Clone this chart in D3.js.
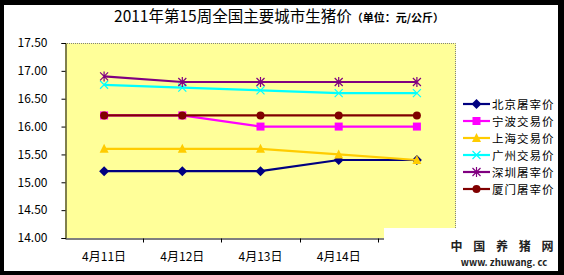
<!DOCTYPE html>
<html>
<head>
<meta charset="utf-8">
<script src="https://cdn.jsdelivr.net/npm/d3@7"></script>
<style>
  body { margin: 0; background: #fff; }
  svg text { font-family: "Noto Sans CJK SC", "DejaVu Sans", sans-serif; }
</style>
</head>
<body>
<div class="chart"></div>
<script>
// categories and series (yuan/kg)
var days = ["4月11日", "4月12日", "4月13日", "4月14日", "4月15日"];
var dayLabels = ["4月11日", "4月12日", "4月13日", "4月14日", ""];
var beijing = [15.2, 15.2, 15.2, 15.4, 15.4];
var ningbo = [16.2, 16.2, 16.0, 16.0, 16.0];
var shanghai = [15.6, 15.6, 15.6, 15.5, 15.4];
var guangzhou = [16.75, 16.7, 16.65, 16.6, 16.6];
var shenzhen = [16.9, 16.8, 16.8, 16.8, 16.8];
var xiamen = [16.2, 16.2, 16.2, 16.2, 16.2];
var yTicks = [14.0, 14.5, 15.0, 15.5, 16.0, 16.5, 17.0, 17.5];

var seriesNames = ["北京屠宰价", "宁波交易价", "上海交易价", "广州交易价", "深圳屠宰价", "厦门屠宰价"];
var seriesValues = [beijing, ningbo, shanghai, guangzhou, shenzhen, xiamen];
var seriesColors = ["#000080", "#ff00ff", "#ffcc00", "#00ffff", "#800080", "#800000"];
var seriesMarks = ["diamond", "square", "triangle", "x", "star", "circle"];

var svgWidth = 564, svgHeight = 275;
var margin = {top: 43, left: 65, right: 108, bottom: 37};
var chartWidth = svgWidth - margin.left - margin.right;
var chartHeight = svgHeight - margin.top - margin.bottom;

var svg = d3.select(".chart").append("svg")
    .attr("width", svgWidth)
    .attr("height", svgHeight);

// black frame round the picture
svg.append("rect").attr("width", svgWidth).attr("height", svgHeight).attr("fill", "#000");
svg.append("rect").attr("x", 4).attr("y", 5).attr("width", 554).attr("height", 266).attr("fill", "#fff");

// title
var title = svg.append("text")
    .attr("x", 279).attr("y", 22)
    .attr("text-anchor", "middle")
    .attr("fill", "#000");
title.append("tspan").attr("font-size", "15.5px").text("2011年第15周全国主要城市生猪价");
title.append("tspan").attr("font-size", "11px").attr("font-weight", "bold").text("（单位：元/公斤）");

var chartGroup = svg.append("g")
    .attr("transform", `translate(${margin.left}, ${margin.top})`);

var xScale = d3.scaleBand().domain(days).range([0, chartWidth]);
var yScale = d3.scaleLinear().domain([14, 17.5]).range([chartHeight, 0]);

// plot background
chartGroup.append("rect")
    .attr("width", chartWidth).attr("height", chartHeight)
    .attr("fill", "#ffff99");
chartGroup.append("path")
    .attr("d", `M0,0.5H${chartWidth - 0.5}V${chartHeight}`)
    .attr("fill", "none").attr("stroke", "#808080")
    .attr("stroke-dasharray", "1,1");

// y axis
var leftAxis = d3.axisLeft(yScale).tickValues(yTicks).tickSize(4).tickPadding(14)
    .tickFormat(d3.format(".2f"));
var yAxis = chartGroup.append("g").attr("transform", "translate(0.5,0)").call(leftAxis);
yAxis.select(".domain").attr("stroke", "#000");
yAxis.selectAll("text")
    .attr("font-family", "DejaVu Sans Mono, monospace")
    .attr("font-size", "12px").attr("fill", "#000");

// x axis: ticks between categories
var bottomAxis = d3.axisBottom(xScale).tickSize(0).tickPadding(14)
    .tickFormat((d, i) => dayLabels[i]);
var xAxis = chartGroup.append("g").attr("transform", `translate(0, ${chartHeight + 0.5})`).call(bottomAxis);
xAxis.select(".domain").attr("stroke", "#000");
xAxis.selectAll("text").attr("font-size", "12px").attr("fill", "#000");
xAxis.selectAll(".sep").data(days.slice(1)).enter().append("line")
    .attr("class", "sep")
    .attr("x1", d => Math.round(xScale(d)) + 0.5).attr("x2", d => Math.round(xScale(d)) + 0.5)
    .attr("y1", 0).attr("y2", 4).attr("stroke", "#000");

var cx = d => xScale(d) + xScale.bandwidth() / 2;

function drawMark(g, type, color) {
    if (type === "diamond") {
        g.append("path").attr("d", "M0,-5L5,0L0,5L-5,0Z").attr("fill", color);
    } else if (type === "square") {
        g.append("rect").attr("x", -4).attr("y", -4).attr("width", 8).attr("height", 8).attr("fill", color);
    } else if (type === "triangle") {
        g.append("path").attr("d", "M0,-5L4.5,4L-4.5,4Z").attr("fill", color);
    } else if (type === "x") {
        g.append("path").attr("d", "M-4,-4L4,4M-4,4L4,-4").attr("stroke", color).attr("stroke-width", 1.2);
    } else if (type === "star") {
        g.append("path").attr("d", "M-4,-4L4,4M-4,4L4,-4M0,-5V5").attr("stroke", color).attr("stroke-width", 1.2);
    } else {
        g.append("circle").attr("r", 4).attr("fill", color);
    }
}

var line = d3.line().x((d, i) => cx(days[i])).y(d => yScale(d));

seriesValues.forEach(function(vals, s) {
    chartGroup.append("path")
        .attr("d", line(vals))
        .attr("fill", "none")
        .attr("stroke", seriesColors[s])
        .attr("stroke-width", 2.2);
    vals.forEach(function(v, i) {
        var g = chartGroup.append("g")
            .attr("transform", `translate(${cx(days[i])}, ${yScale(v)})`);
        drawMark(g, seriesMarks[s], seriesColors[s]);
    });
});

// legend
var legend = svg.append("g").attr("transform", "translate(463, 104)");
seriesNames.forEach(function(name, s) {
    var row = legend.append("g").attr("transform", `translate(0, ${s * 17})`);
    row.append("line").attr("x1", 0).attr("x2", 27).attr("y1", 0).attr("y2", 0)
        .attr("stroke", seriesColors[s]).attr("stroke-width", 2.2);
    var g = row.append("g").attr("transform", "translate(13.5,0)");
    drawMark(g, seriesMarks[s], seriesColors[s]);
    row.append("text").attr("x", 29).attr("y", 4.5)
        .attr("font-size", "11.5px").attr("letter-spacing", "1px")
        .attr("fill", "#000").text(name);
});

// watermark box
svg.append("rect").attr("x", 384).attr("y", 228).attr("width", 174).attr("height", 43).attr("fill", "#fff");
svg.append("text").attr("x", 504).attr("y", 250.5).attr("text-anchor", "middle")
    .attr("font-size", "12px").attr("font-weight", "bold").attr("fill", "#222")
    .attr("letter-spacing", "4px")
    .text("中 国 养 猪 网");
svg.append("text").attr("x", 504).attr("y", 266).attr("text-anchor", "middle")
    .attr("font-family", "Liberation Sans, sans-serif")
    .attr("font-size", "9.5px").attr("font-weight", "bold").attr("fill", "#222")
    .text("www. zhuwang. cc");
</script>
</body>
</html>
